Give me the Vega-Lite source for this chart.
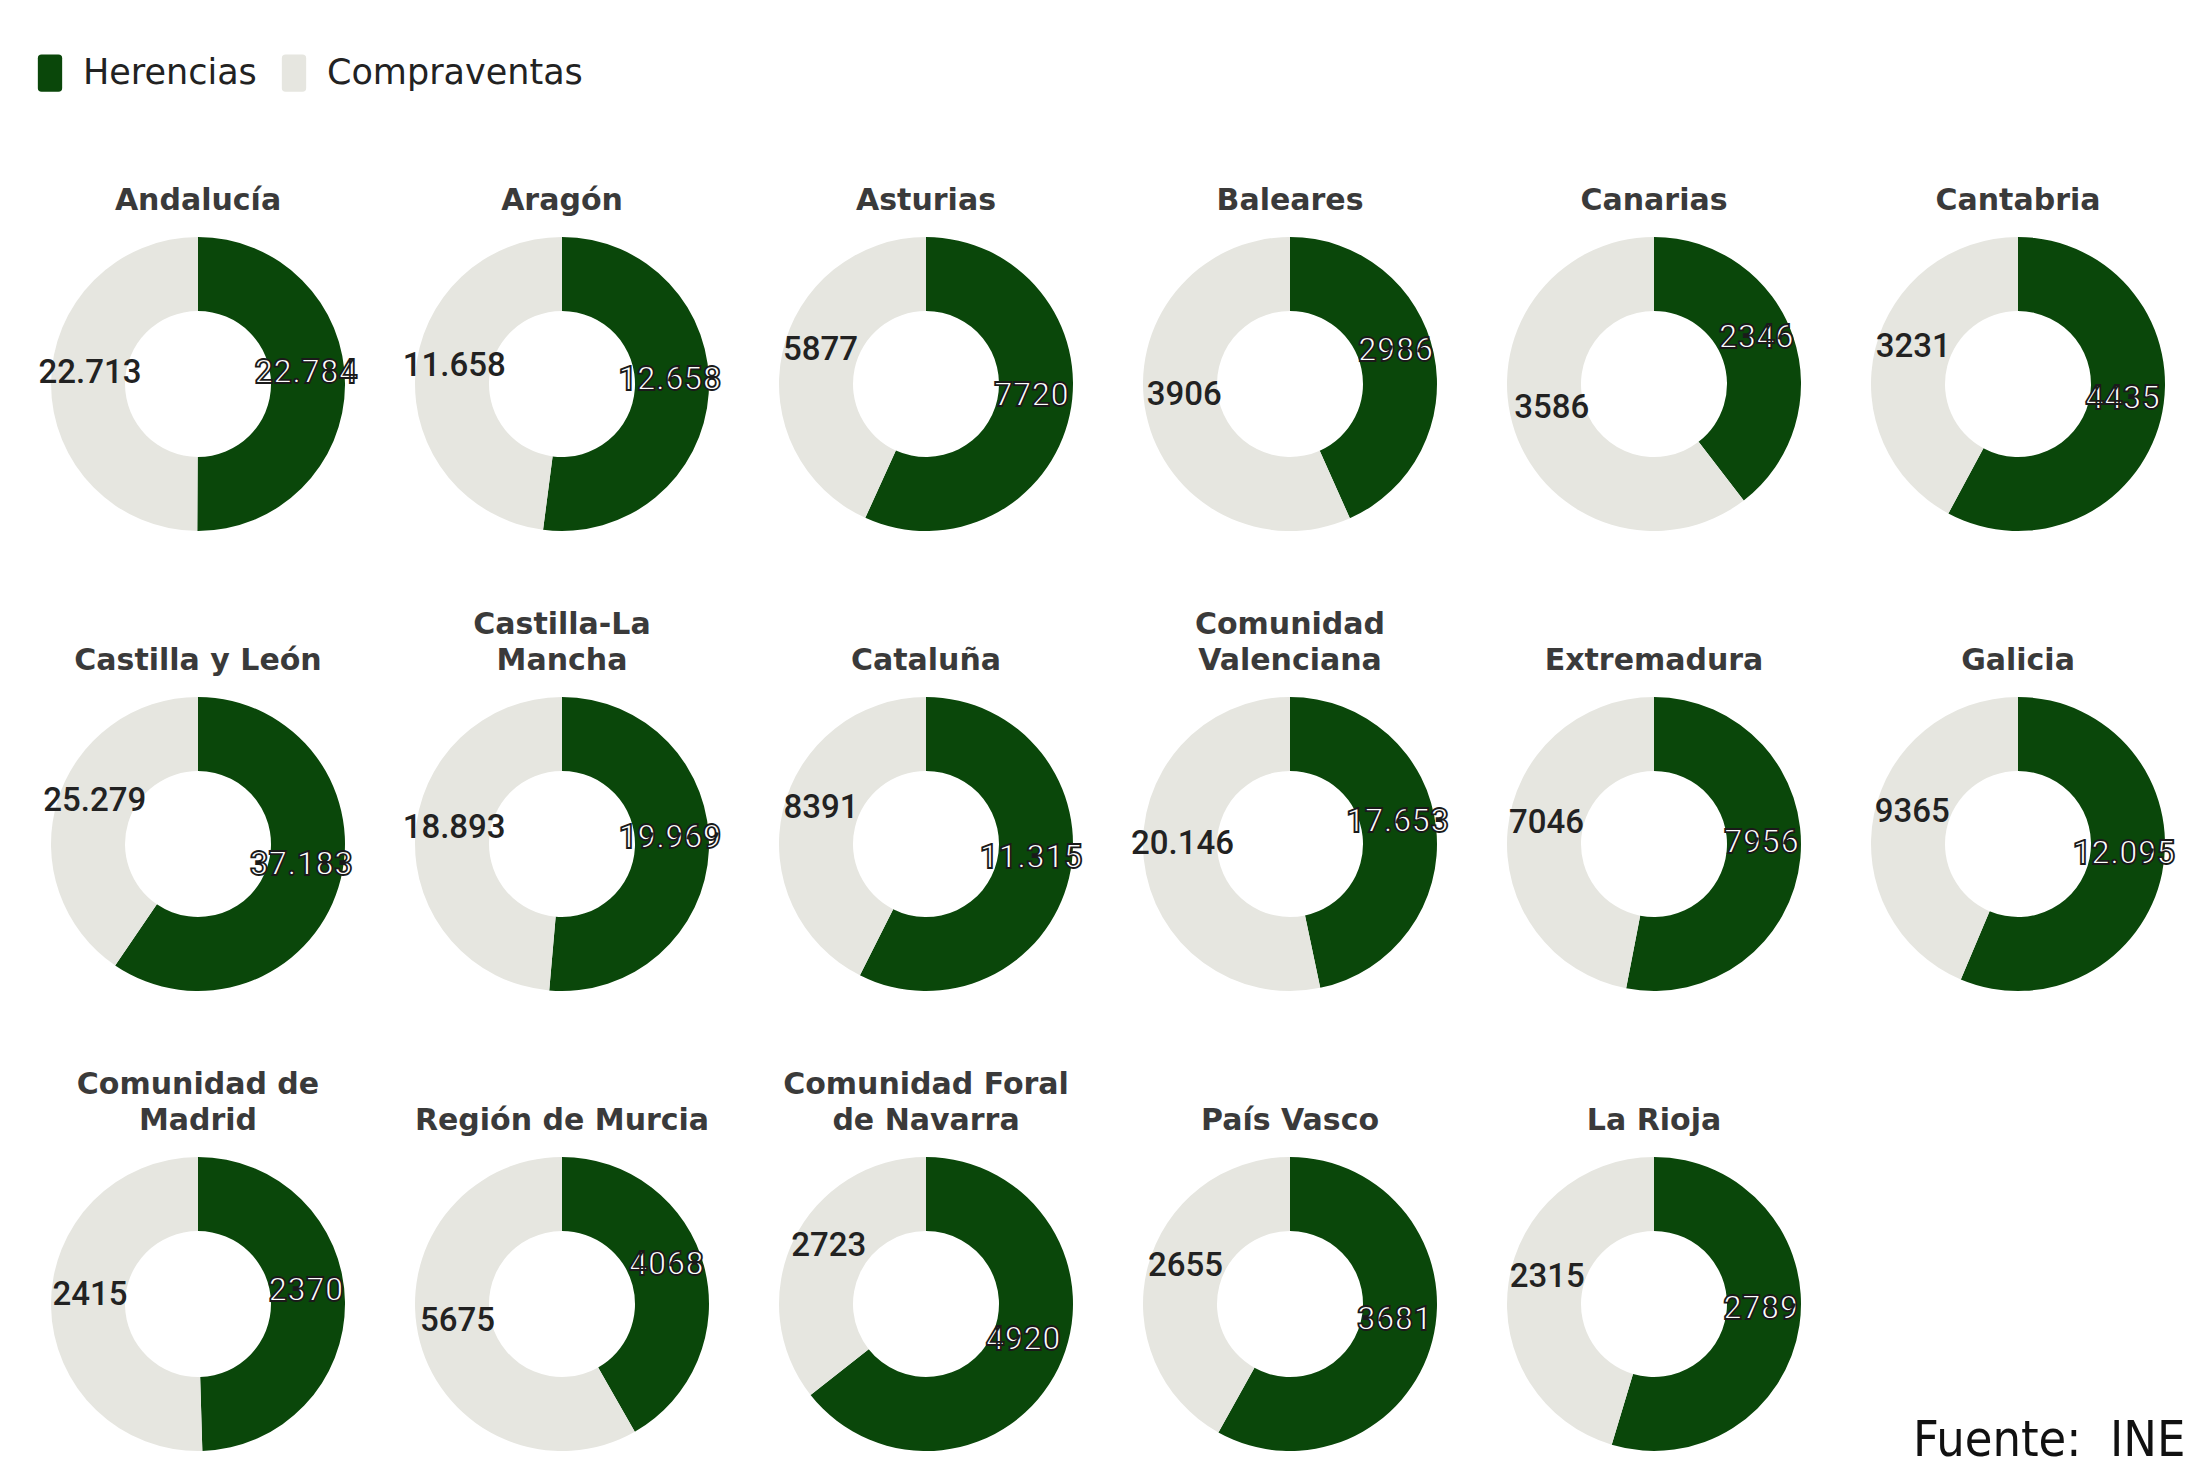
{
  "$schema": "https://vega.github.io/schema/vega-lite/v6.json",
  "background": "#ffffff",
  "padding": {"left": 31, "top": 54, "right": 5, "bottom": 5},
  "data": {"values": [
    {"region": "Andalucía", "tipo": "Herencias", "valor": 22784},
    {"region": "Andalucía", "tipo": "Compraventas", "valor": 22713},
    {"region": "Aragón", "tipo": "Herencias", "valor": 12658},
    {"region": "Aragón", "tipo": "Compraventas", "valor": 11658},
    {"region": "Asturias", "tipo": "Herencias", "valor": 7720},
    {"region": "Asturias", "tipo": "Compraventas", "valor": 5877},
    {"region": "Baleares", "tipo": "Herencias", "valor": 2986},
    {"region": "Baleares", "tipo": "Compraventas", "valor": 3906},
    {"region": "Canarias", "tipo": "Herencias", "valor": 2346},
    {"region": "Canarias", "tipo": "Compraventas", "valor": 3586},
    {"region": "Cantabria", "tipo": "Herencias", "valor": 4435},
    {"region": "Cantabria", "tipo": "Compraventas", "valor": 3231},
    {"region": "Castilla y León", "tipo": "Herencias", "valor": 37183},
    {"region": "Castilla y León", "tipo": "Compraventas", "valor": 25279},
    {"region": "Castilla-La Mancha", "tipo": "Herencias", "valor": 19969},
    {"region": "Castilla-La Mancha", "tipo": "Compraventas", "valor": 18893},
    {"region": "Cataluña", "tipo": "Herencias", "valor": 11315},
    {"region": "Cataluña", "tipo": "Compraventas", "valor": 8391},
    {"region": "Comunidad Valenciana", "tipo": "Herencias", "valor": 17653},
    {"region": "Comunidad Valenciana", "tipo": "Compraventas", "valor": 20146},
    {"region": "Extremadura", "tipo": "Herencias", "valor": 7956},
    {"region": "Extremadura", "tipo": "Compraventas", "valor": 7046},
    {"region": "Galicia", "tipo": "Herencias", "valor": 12095},
    {"region": "Galicia", "tipo": "Compraventas", "valor": 9365},
    {"region": "Comunidad de Madrid", "tipo": "Herencias", "valor": 2370},
    {"region": "Comunidad de Madrid", "tipo": "Compraventas", "valor": 2415},
    {"region": "Región de Murcia", "tipo": "Herencias", "valor": 4068},
    {"region": "Región de Murcia", "tipo": "Compraventas", "valor": 5675},
    {"region": "Comunidad Foral de Navarra", "tipo": "Herencias", "valor": 4920},
    {"region": "Comunidad Foral de Navarra", "tipo": "Compraventas", "valor": 2723},
    {"region": "País Vasco", "tipo": "Herencias", "valor": 3681},
    {"region": "País Vasco", "tipo": "Compraventas", "valor": 2655},
    {"region": "La Rioja", "tipo": "Herencias", "valor": 2789},
    {"region": "La Rioja", "tipo": "Compraventas", "valor": 2315}
  ]},
  "title": {
    "text": "Fuente:\u00a0\u00a0INE",
    "orient": "bottom",
    "anchor": "end",
    "offset": -38,
    "dx": 10,
    "font": "DejaVu Sans Condensed, sans-serif",
    "fontSize": 50,
    "fontWeight": "normal",
    "color": "#111111"
  },
  "columns": 6,
  "bounds": "flush",
  "spacing": {"column": 64, "row": 160},
  "facet": {
    "field": "region",
    "type": "nominal",
    "sort": ["Andalucía", "Aragón", "Asturias", "Baleares", "Canarias", "Cantabria", "Castilla y León", "Castilla-La Mancha", "Cataluña", "Comunidad Valenciana", "Extremadura", "Galicia", "Comunidad de Madrid", "Región de Murcia", "Comunidad Foral de Navarra", "País Vasco", "La Rioja"],
    "title": null,
    "header": {
      "labelFont": "DejaVu Sans",
      "labelFontSize": 30,
      "labelFontWeight": "bold",
      "labelColor": "#3a3a3a",
      "labelPadding": -12,
      "labelLineHeight": 36,
      "labelBaseline": "bottom",
      "labelExpr": "datum.value == 'Castilla-La Mancha' ? ['Castilla-La', 'Mancha'] : datum.value == 'Comunidad Valenciana' ? ['Comunidad', 'Valenciana'] : datum.value == 'Comunidad de Madrid' ? ['Comunidad de', 'Madrid'] : datum.value == 'Comunidad Foral de Navarra' ? ['Comunidad Foral', 'de Navarra'] : datum.value"
    }
  },
  "resolve": {"scale": {"theta": "independent"}},
  "spec": {
    "width": 300,
    "height": 300,
    "encoding": {
      "theta": {"field": "valor", "type": "quantitative", "stack": true},
      "order": {"field": "tipo", "sort": "descending"}
    },
    "layer": [
      {
        "mark": {"type": "arc", "outerRadius": 147, "innerRadius": 73},
        "encoding": {
          "color": {
            "field": "tipo",
            "type": "nominal",
            "scale": {"domain": ["Herencias", "Compraventas"], "range": ["#0a470a", "#e6e6e0"]},
            "legend": {
              "title": null,
              "orient": "none",
              "legendX": -17,
              "legendY": -180,
              "direction": "horizontal",
              "symbolType": "M-0.65,-0.8Q-0.65,-1,-0.45,-1L0.45,-1Q0.65,-1,0.65,-0.8L0.65,0.8Q0.65,1,0.45,1L-0.45,1Q-0.65,1,-0.65,0.8Z",
              "symbolSize": 1400,
              "symbolStrokeWidth": 0,
              "labelFont": "DejaVu Sans, sans-serif",
              "labelFontSize": 35,
              "labelColor": "#222222",
              "labelLimit": 400,
              "labelOffset": 14,
              "columnPadding": 18
            }
          }
        }
      },
      {
        "mark": {"type": "text", "radius": 108, "dy": -11, "font": "Roboto", "fontSize": 33, "fontWeight": 500, "strokeWidth": 1.8},
        "encoding": {
          "text": {
            "condition": {"test": "datum.valor >= 10000", "field": "valor", "type": "quantitative", "format": ",d"},
            "field": "valor", "type": "quantitative", "format": "d"
          },
          "color": {"condition": {"test": "datum.tipo == 'Herencias'", "value": "#ffffff"}, "value": "#222222"},
          "stroke": {"condition": {"test": "datum.tipo == 'Herencias'", "value": "#1a1a1a"}, "value": null}
        }
      }
    ]
  },
  "config": {
    "view": {"stroke": null},
    "locale": {"number": {"decimal": ",", "thousands": ".", "grouping": [3], "currency": ["", " €"]}}
  }
}
